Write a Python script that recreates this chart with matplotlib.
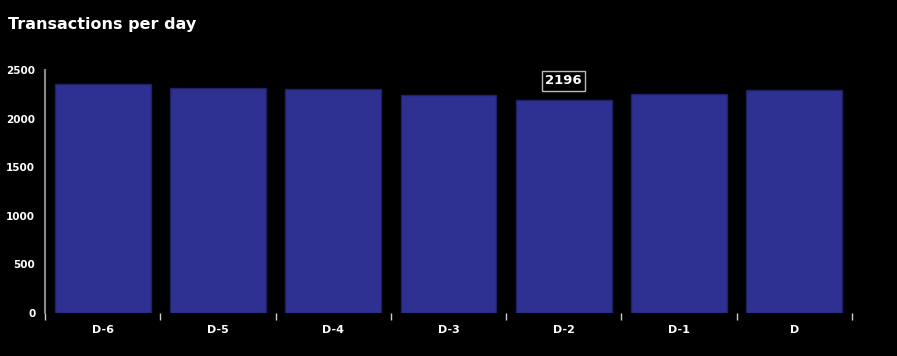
import matplotlib.pyplot as plt
import numpy as np

days = ['D-6', 'D-5', 'D-4', 'D-3', 'D-2', 'D-1', 'D']
transactions = [2356, 2310, 2300, 2243, 2196, 2248, 2289]
highlight = 4

fig = plt.figure(figsize=(8.97, 3.56), dpi=100, facecolor='black')
ax = fig.add_axes([0.0502, 0.1208, 0.8996, 0.6826], facecolor='black')

x = np.arange(len(days))
ax.bar(x, transactions, width=0.83, color='#2e3192', edgecolor='#1f2166', linewidth=1)

ax.set_xlim(-0.5, len(days) - 0.5)
ax.set_ylim(0, 2500)
ax.set_yticks([0, 500, 1000, 1500, 2000, 2500])

ax.set_xticks(x)
ax.set_xticklabels(days, color='white', fontweight='bold', fontsize=8)
ax.tick_params(axis='x', length=0, pad=9)
ax.set_xticks(np.arange(len(days) + 1) - 0.5, minor=True)
ax.tick_params(axis='x', which='minor', length=5, color='#cccccc', width=1)
ax.tick_params(axis='y', length=0, pad=7, labelcolor='white', labelsize=7.5)
for lbl in ax.get_yticklabels():
    lbl.set_fontweight('bold')

for s in ['top', 'right', 'bottom']:
    ax.spines[s].set_visible(False)
ax.spines['left'].set_color('#888888')
ax.spines['left'].set_linewidth(1.5)

ax.annotate(str(transactions[highlight]), (x[highlight], transactions[highlight]),
            xytext=(0, 13.5), textcoords='offset points', ha='center', va='center',
            color='white', fontweight='bold', fontsize=9.5,
            bbox=dict(boxstyle='square,pad=0.25', fc='black', ec='#bbbbbb', lw=1))

fig.text(0.009, 0.93, 'Transactions per day', color='white', fontweight='bold',
         fontsize=11.5, ha='left', va='center')

fig.savefig('out.png', dpi=100, facecolor='black')
